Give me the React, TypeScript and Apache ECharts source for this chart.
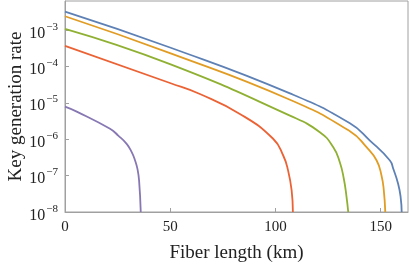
import React, { useEffect, useRef } from "react";
import * as echarts from "echarts";

const xTicks = [0, 50, 100, 150];
const yTickExponents = [-8, -7, -6, -5, -4, -3];

const blueSeries: [number, number][] = [
  [0, 3.21e-3], [49.9, 3.32e-4], [106.9, 1.82e-5], [135.4, 2.74e-6],
  [144.9, 9.2e-7], [154.4, 2.6e-7], [156.0, 1.54e-7], [158.3, 6.0e-8], [159.5, 2.58e-8], [160.0, 1e-8],
];
const orangeSeries: [number, number][] = [
  [0, 2.4e-3], [49.9, 2.33e-4], [106.9, 1.22e-5], [135.4, 1.66e-6],
  [143.3, 6.04e-7], [148.1, 2.61e-7], [150.4, 1.01e-7], [151.5, 3.94e-8], [152.2, 1e-8],
];
const greenSeries: [number, number][] = [
  [0, 1.08e-3], [49.9, 1.16e-4], [106.9, 4.45e-6],
  [121.1, 1.56e-6], [127.5, 6.04e-7], [130.6, 2.34e-7], [132.5, 8.2e-8], [133.8, 2.58e-8], [134.6, 1e-8],
];
const redSeries: [number, number][] = [
  [0, 3.69e-4], [49.9, 3.51e-5], [64.1, 1.75e-5], [83.1, 4.97e-6],
  [98.9, 1.03e-6], [103.7, 3.57e-7], [106.0, 1.39e-7], [107.7, 3.94e-8], [108.3, 1e-8],
];
const purpleSeries: [number, number][] = [
  [0, 7.87e-6], [5.56, 5.74e-6], [21.4, 1.93e-6], [25.3, 1.26e-6],
  [29.3, 7.48e-7], [31.7, 4.4e-7], [33.3, 2.61e-7], [34.4, 1.55e-7], [35.2, 7.4e-8], [36.0, 1e-8],
];

const seriesList = [
  { name: "s1", data: blueSeries, color: "#5E81B5" },
  { name: "s2", data: orangeSeries, color: "#E19C24" },
  { name: "s3", data: greenSeries, color: "#8FB032" },
  { name: "s4", data: redSeries, color: "#EB6235" },
  { name: "s5", data: purpleSeries, color: "#8778B3" },
];

const SERIF = "Liberation Serif";

export default function App() {
  const ref = useRef<HTMLDivElement>(null);
  useEffect(() => {
    if (!ref.current) return;
    const chart = echarts.init(ref.current, null, { renderer: "svg" });
    chart.setOption({
      animation: false,
      grid: {
        left: 65, top: 1, right: 1, bottom: 55,
        outerBoundsMode: "none",
        containLabel: false,
        show: true, borderColor: "#a0a0a0", borderWidth: 1,
      },
      xAxis: {
        type: "value",
        min: 0,
        max: 163,
        interval: 50,
        name: "Fiber length (km)",
        nameLocation: "middle",
        nameGap: 30,
        nameMoveOverlap: false,
        nameTextStyle: { fontFamily: SERIF, fontSize: 19, color: "#222" },
        axisLine: { lineStyle: { color: "#a0a0a0" } },
        axisTick: { inside: true, length: 4, lineStyle: { color: "#a0a0a0" } },
        splitLine: { show: false },
        axisLabel: {
          fontFamily: SERIF, fontSize: 15, color: "#222", margin: 6,
          showMaxLabel: false,
          formatter: (v: number) => (xTicks.includes(v) ? String(v) : ""),
        },
      },
      yAxis: {
        type: "log",
        logBase: 10,
        min: 1e-8,
        max: 6.3e-3,
        name: "Key generation rate",
        nameLocation: "middle",
        nameGap: 41,
        nameMoveOverlap: false,
        nameTextStyle: { fontFamily: SERIF, fontSize: 19, color: "#222" },
        axisLine: { lineStyle: { color: "#a0a0a0" } },
        axisTick: { inside: true, length: 4, lineStyle: { color: "#a0a0a0" } },
        splitLine: { show: false },
        axisLabel: {
          fontFamily: SERIF, fontSize: 16, color: "#222", margin: 7,
          showMaxLabel: false,
          formatter: (v: number) => {
            const e = Math.round(Math.log10(v));
            if (Math.abs(Math.log10(v) - e) > 1e-6 || !yTickExponents.includes(e)) return "";
            return `{b|10}{sup|\u2212${Math.abs(e)}}`;
          },
          rich: {
            b: { fontFamily: SERIF, fontSize: 16, color: "#222", lineHeight: 20, verticalAlign: "bottom" },
            sup: { fontFamily: SERIF, fontSize: 11, color: "#222", lineHeight: 20, verticalAlign: "top", padding: [0, 0, 0, 1] },
          },
        },
      },
      series: seriesList.map((s) => ({
        name: s.name,
        type: "line",
        data: s.data,
        showSymbol: false,
        smooth: 0.5,
        clip: true,
        lineStyle: { color: s.color, width: 1.8 },
        itemStyle: { color: s.color },
      })),
    });
    return () => chart.dispose();
  }, []);
  return <div ref={ref} style={{ position: "fixed", left: 0, top: 0, width: 409, height: 267 }} />;
}
